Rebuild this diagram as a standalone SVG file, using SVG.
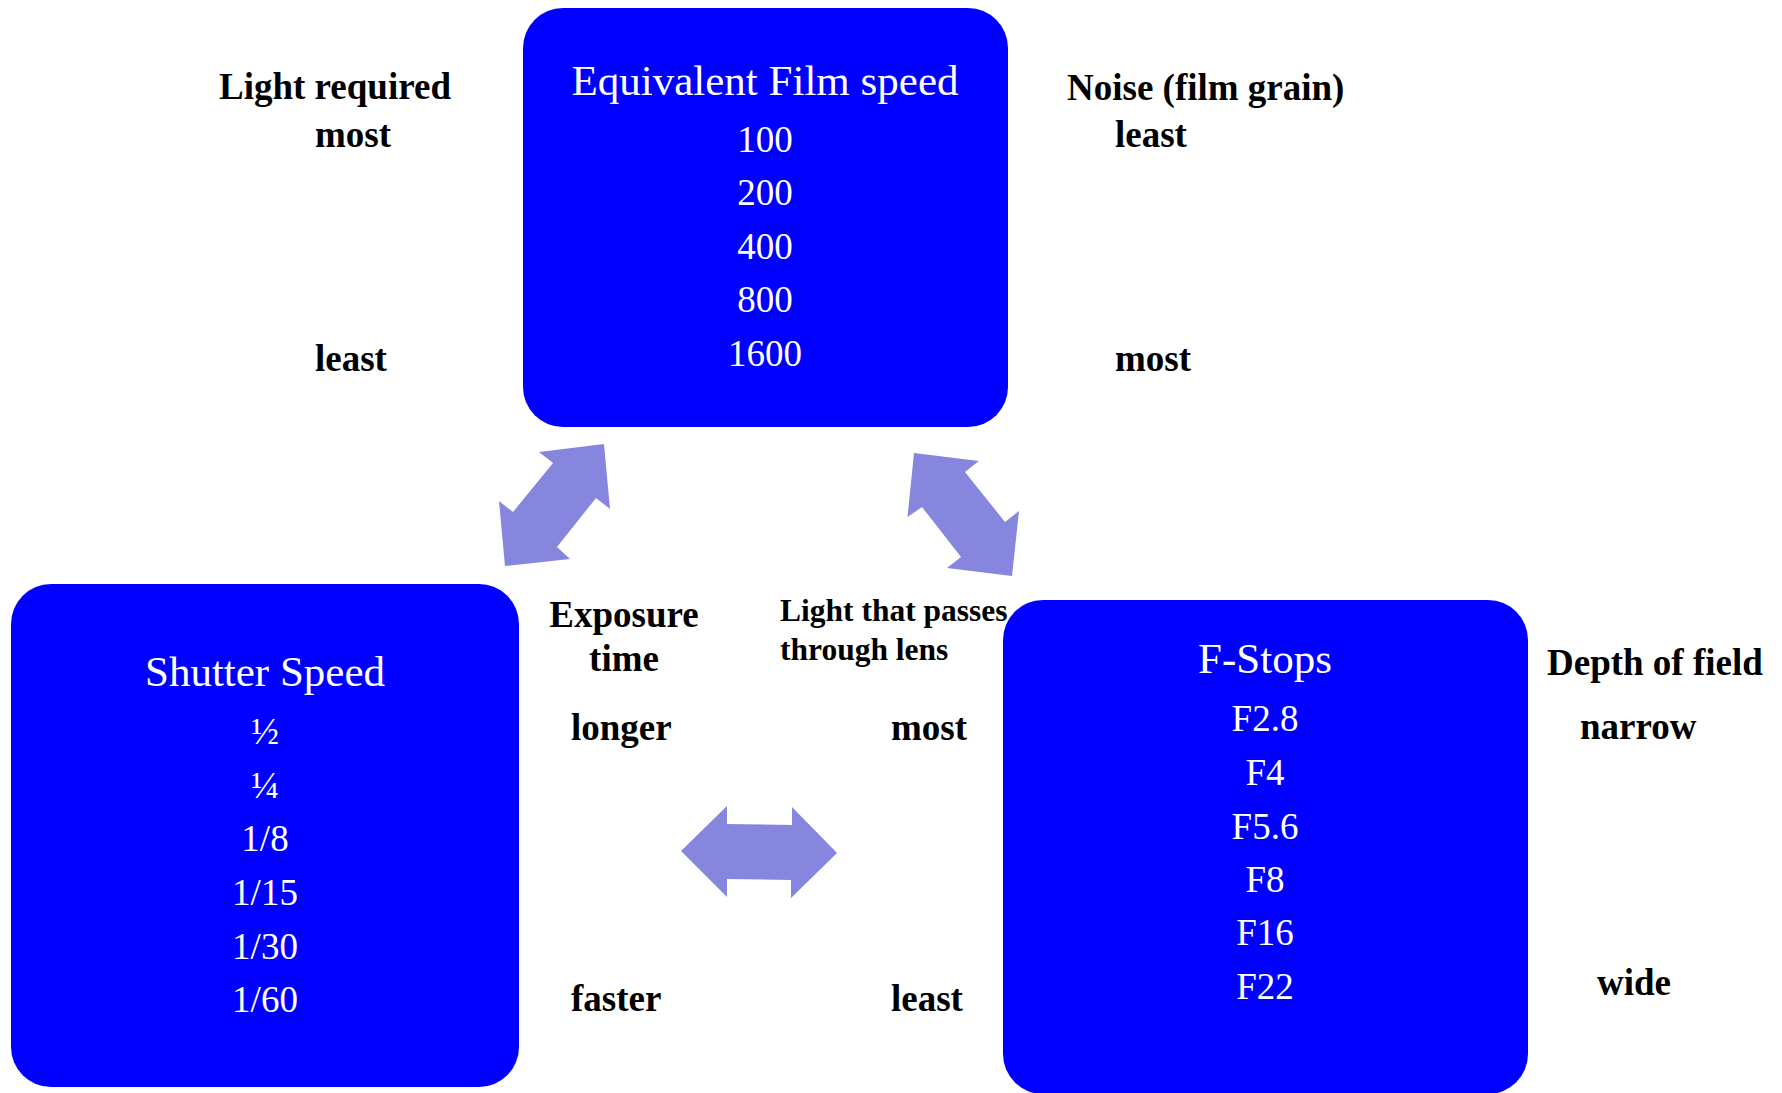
<svg xmlns="http://www.w3.org/2000/svg" width="1782" height="1093" viewBox="0 0 1782 1093">
  <style>
    .box { fill: #0000FF; }
    .title { font-family: "Liberation Serif", "Times New Roman", serif; font-size: 43px; fill: #FFFFFF; text-anchor: middle; }
    .val { font-family: "Liberation Serif", "Times New Roman", serif; font-size: 37px; fill: #FFFFFF; text-anchor: middle; }
    .lbl { font-family: "Liberation Serif", "Times New Roman", serif; font-size: 37px; font-weight: bold; fill: #000000; }
    .lbl-sm { font-family: "Liberation Serif", "Times New Roman", serif; font-size: 31.5px; font-weight: bold; fill: #000000; }
    .arrow { fill: #8686DE; }
  </style>
  <rect width="1782" height="1093" fill="#FFFFFF"/>

  <g id="connectors">
    <polygon class="arrow" points="604,444 539,452 553,463 513,512 499,501 505,566 570,559 557,547 596,498 610,509"/>
    <polygon class="arrow" points="914,453 979,461 965,472 1005,522 1019,511 1012,576 947,568 961,557 922,507 907.5,517"/>
    <polygon class="arrow" points="681,851 727,806 727,824 792,825 792,807 837,853 791,898 791,880 727,879 727,897"/>
  </g>

  <g id="film-speed">
    <rect class="box" x="523" y="8" width="485" height="419" rx="40" ry="40"/>
    <text class="title" x="765" y="95">Equivalent Film speed</text>
    <text class="val" x="765" y="152">100</text>
    <text class="val" x="765" y="205">200</text>
    <text class="val" x="765" y="259">400</text>
    <text class="val" x="765" y="312">800</text>
    <text class="val" x="765" y="366">1600</text>
  </g>

  <g id="shutter-speed">
    <rect class="box" x="11" y="584" width="508" height="503" rx="40" ry="40"/>
    <text class="title" x="265" y="686">Shutter Speed</text>
    <text class="val" x="265" y="744">½</text>
    <text class="val" x="265" y="798">¼</text>
    <text class="val" x="265" y="851">1/8</text>
    <text class="val" x="265" y="905">1/15</text>
    <text class="val" x="265" y="959">1/30</text>
    <text class="val" x="265" y="1012">1/60</text>
  </g>

  <g id="f-stops">
    <rect class="box" x="1003" y="600" width="525" height="494" rx="40" ry="40"/>
    <text class="title" x="1265" y="673">F-Stops</text>
    <text class="val" x="1265" y="731">F2.8</text>
    <text class="val" x="1265" y="785">F4</text>
    <text class="val" x="1265" y="839">F5.6</text>
    <text class="val" x="1265" y="892">F8</text>
    <text class="val" x="1265" y="945">F16</text>
    <text class="val" x="1265" y="999">F22</text>
  </g>

  <g id="labels-light-required">
    <text class="lbl" x="219" y="99">Light required</text>
    <text class="lbl" x="315" y="147">most</text>
    <text class="lbl" x="315" y="371">least</text>
  </g>

  <g id="labels-noise">
    <text class="lbl" x="1067" y="100">Noise (film grain)</text>
    <text class="lbl" x="1115" y="147">least</text>
    <text class="lbl" x="1115" y="371">most</text>
  </g>

  <g id="labels-exposure">
    <text class="lbl" x="624" y="627" text-anchor="middle">Exposure</text>
    <text class="lbl" x="624" y="671" text-anchor="middle">time</text>
    <text class="lbl" x="571" y="740">longer</text>
    <text class="lbl" x="571" y="1011">faster</text>
  </g>

  <g id="labels-light-lens">
    <text class="lbl-sm" x="780" y="621">Light that passes</text>
    <text class="lbl-sm" x="780" y="660">through lens</text>
    <text class="lbl" x="891" y="740">most</text>
    <text class="lbl" x="891" y="1011">least</text>
  </g>

  <g id="labels-depth">
    <text class="lbl" x="1547" y="675">Depth of field</text>
    <text class="lbl" x="1580" y="739">narrow</text>
    <text class="lbl" x="1597" y="995">wide</text>
  </g>
</svg>
